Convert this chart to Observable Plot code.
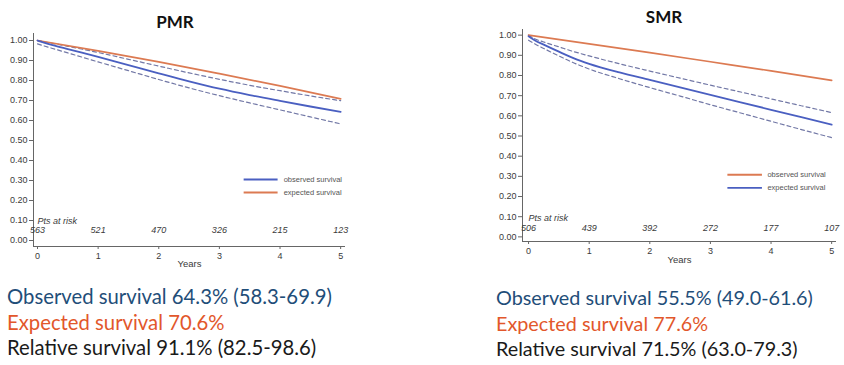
<!DOCTYPE html>
<html>
<head>
<meta charset="utf-8">
<script src="https://cdn.jsdelivr.net/npm/d3@7"></script>
<script src="https://cdn.jsdelivr.net/npm/@observablehq/plot@0.6"></script>
<style>
  html, body { margin: 0; padding: 0; background: #fff; }
  #page { position: relative; width: 844px; height: 365px; overflow: hidden; background: #fff; }
  .chart { position: absolute; top: 0; }
  .title { position: absolute; font-family: Lato, "Open Sans", sans-serif; font-weight: 700; font-size: 17px; color: #111; transform: translate(-50%, -50%); white-space: nowrap; }
  .summary { position: absolute; font-family: Lato, "Open Sans", sans-serif; line-height: 25.6px; white-space: nowrap; }
  .obs { color: #1f4e79; }
  .exp { color: #e2572b; }
  .rel { color: #1a1a1a; }
</style>
</head>
<body>
<div id="page">
  <div class="title" style="left:175px; top:21px;">PMR</div>
  <div class="title" style="left:664px; top:16px;">SMR</div>
  <div id="pmr" class="chart" style="left:0px;"></div>
  <div id="smr" class="chart" style="left:420px;"></div>
  <div class="summary" style="left:7px; top:284px; font-size:20.3px;">
    <div class="obs">Observed survival 64.3% (58.3-69.9)</div>
    <div class="exp">Expected survival 70.6%</div>
    <div class="rel">Relative survival 91.1% (82.5-98.6)</div>
  </div>
  <div class="summary" style="left:496px; top:285px; font-size:19.8px;">
    <div class="obs">Observed survival 55.5% (49.0-61.6)</div>
    <div class="exp">Expected survival 77.6%</div>
    <div class="rel">Relative survival 71.5% (63.0-79.3)</div>
  </div>
</div>
<script>
// ---------- DATA ----------
const xTickValues = [0, 1, 2, 3, 4, 5];
const yTickValues = [0, 0.1, 0.2, 0.3, 0.4, 0.5, 0.6, 0.7, 0.8, 0.9, 1.0];
const legendLabels = ["observed survival", "expected survival"];
const riskLabel = "Pts at risk";

// PMR
const pmrTime     = [0, 0.25, 0.5, 1, 1.5, 2, 2.5, 3, 3.5, 4, 4.5, 5];
const pmrObserved = [1.0, 0.977, 0.957, 0.918, 0.877, 0.836, 0.796, 0.759, 0.727, 0.698, 0.670, 0.643];
const pmrUpper    = [1.0, 0.986, 0.971, 0.940, 0.906, 0.872, 0.838, 0.806, 0.776, 0.749, 0.723, 0.699];
const pmrLower    = [0.983, 0.960, 0.938, 0.893, 0.849, 0.805, 0.763, 0.724, 0.688, 0.653, 0.618, 0.583];
const pmrExpTime  = [0, 1, 2, 3, 4, 5];
const pmrExpected = [1.0, 0.948, 0.893, 0.834, 0.773, 0.708];
const pmrRiskTime = [0, 1, 2, 3, 4, 5];
const pmrRisk     = [563, 521, 470, 326, 215, 123];

// SMR
const smrTime     = [0, 0.1, 0.25, 0.5, 0.75, 1, 1.5, 2, 2.5, 3, 3.5, 4, 4.5, 5];
const smrObserved = [0.995, 0.975, 0.953, 0.918, 0.885, 0.858, 0.815, 0.778, 0.741, 0.704, 0.667, 0.630, 0.593, 0.556];
const smrUpper    = [1.0, 0.982, 0.966, 0.942, 0.918, 0.897, 0.858, 0.822, 0.787, 0.752, 0.718, 0.684, 0.650, 0.616];
const smrLower    = [0.975, 0.957, 0.934, 0.897, 0.862, 0.832, 0.784, 0.740, 0.698, 0.655, 0.614, 0.573, 0.532, 0.492];
const smrExpTime  = [0, 1, 2, 3, 4, 5];
const smrExpected = [1.0, 0.957, 0.913, 0.868, 0.823, 0.776];
const smrRiskTime = [0, 1, 2, 3, 4, 5];
const smrRisk     = [506, 439, 392, 272, 177, 107];

// ---------- STYLE ----------
const BLUE = "#4a5fc1";
const ORANGE = "#dc7a52";
const DASH = "#7278a6";
const AXIS = "#666";

function survChart(o) {
  const obs = o.time.map((t, i) => ({t, v: o.observed[i]}));
  const up = o.time.map((t, i) => ({t, v: o.upper[i]}));
  const lo = o.time.map((t, i) => ({t, v: o.lower[i]}));
  const ex = o.expTime.map((t, i) => ({t, v: o.expected[i]}));
  const risk = o.riskTime.map((t, i) => ({t, n: o.risk[i]}));
  const legend = legendLabels.map((label, i) => ({label, color: o.legendColors[i], y: o.legendY[i]}));

  return Plot.plot({
    width: o.width,
    height: o.height,
    marginLeft: o.marginLeft,
    marginRight: o.marginRight,
    marginTop: o.marginTop,
    marginBottom: o.marginBottom,
    x: {domain: o.xDomain},
    y: {domain: o.yDomain},
    style: {fontFamily: "'Liberation Sans', Arial, sans-serif", fontSize: "9px", color: "#3a3a3a", background: "transparent", overflow: "visible"},
    marks: [
      Plot.ruleX([o.xDomain[0]], {stroke: AXIS, strokeWidth: 1}),
      Plot.ruleY([o.yDomain[0]], {stroke: AXIS, strokeWidth: 1}),
      Plot.axisY({ticks: yTickValues, tickFormat: d3.format(".2f"), tickSize: 4, tickPadding: 2, label: null, stroke: AXIS}),
      Plot.axisX({ticks: xTickValues, tickFormat: d3.format("d"), tickSize: 3, tickPadding: 3, label: null, stroke: AXIS}),
      Plot.text(["Years"], {frameAnchor: "bottom", dy: o.yearsDy, fontSize: 9.5}),
      Plot.line(up, {x: "t", y: "v", stroke: DASH, strokeWidth: 1.2, strokeDasharray: "4,3", curve: "monotone-x"}),
      Plot.line(lo, {x: "t", y: "v", stroke: DASH, strokeWidth: 1.2, strokeDasharray: "4,3", curve: "monotone-x"}),
      Plot.line(ex, {x: "t", y: "v", stroke: ORANGE, strokeWidth: 1.7, curve: "monotone-x"}),
      Plot.line(obs, {x: "t", y: "v", stroke: BLUE, strokeWidth: 1.8, curve: "monotone-x"}),
      Plot.text([riskLabel], {x: () => 0, y: () => o.riskLabelY, textAnchor: "start", fontStyle: "italic", fontSize: 9}),
      Plot.text(risk, {x: "t", y: () => o.riskY, text: "n", fontStyle: "italic", fontSize: 9}),
      Plot.link([legend[0]], {x1: () => o.legendX[0], x2: () => o.legendX[1], y1: "y", y2: "y", stroke: legend[0].color, strokeWidth: 1.8}),
      Plot.link([legend[1]], {x1: () => o.legendX[0], x2: () => o.legendX[1], y1: "y", y2: "y", stroke: legend[1].color, strokeWidth: 1.8}),
      Plot.text(legend, {x: () => o.legendTextX, y: "y", text: "label", textAnchor: "start", fontSize: 7.5, fill: "#555"})
    ]
  });
}

document.getElementById("pmr").append(survChart({
  time: pmrTime, observed: pmrObserved, upper: pmrUpper, lower: pmrLower,
  expTime: pmrExpTime, expected: pmrExpected, riskTime: pmrRiskTime, risk: pmrRisk,
  width: 420, height: 280, marginLeft: 33, marginRight: 75, marginTop: 33, marginBottom: 34,
  xDomain: [-0.066, 5.08], yDomain: [-0.03, 1.035], yearsDy: 20,
  riskLabelY: 0.097, riskY: 0.05,
  legendColors: [BLUE, ORANGE], legendY: [0.305, 0.24], legendX: [3.40, 3.96], legendTextX: 4.06
}));

document.getElementById("smr").append(survChart({
  time: smrTime, observed: smrObserved, upper: smrUpper, lower: smrLower,
  expTime: smrExpTime, expected: smrExpected, riskTime: smrRiskTime, risk: smrRisk,
  width: 424, height: 280, marginLeft: 102, marginRight: 8, marginTop: 29, marginBottom: 39,
  xDomain: [-0.1, 5.08], yDomain: [-0.023, 1.028], yearsDy: 21,
  riskLabelY: 0.094, riskY: 0.045,
  legendColors: [ORANGE, BLUE], legendY: [0.308, 0.243], legendX: [3.28, 3.85], legendTextX: 3.94
}));
</script>
</body>
</html>
